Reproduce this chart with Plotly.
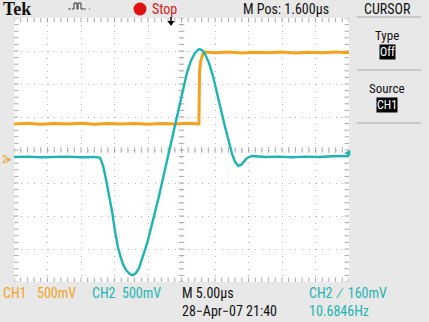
import numpy as np
import plotly.graph_objects as go

# ---- data (screen divisions: time 0..10 div, amplitude -4..4 div) ----
ch1_t = [0.00, 0.40, 0.80, 1.20, 1.60, 2.00, 2.40, 2.80, 3.20, 3.60, 4.00, 4.40, 4.80, 5.20,
         5.52, 5.54, 5.57, 5.60, 5.64, 5.70,
         6.00, 6.40, 6.80, 7.20, 7.60, 8.00, 8.40, 8.80, 9.20, 9.60, 10.00]
ch1_v = [0.79, 0.81, 0.78, 0.80, 0.79, 0.81, 0.78, 0.80, 0.79, 0.80, 0.78, 0.80, 0.79, 0.81,
         0.79, 2.40, 2.68, 2.80, 2.92, 2.97,
         2.95, 2.97, 2.94, 2.96, 2.95, 2.97, 2.94, 2.96, 2.95, 2.97, 2.95]

ch2_t = [0.00, 0.40, 0.80, 1.20, 1.60, 2.00, 2.40, 2.57, 2.66, 2.75, 2.84, 2.93, 3.01, 3.10,
         3.19, 3.28, 3.37, 3.46, 3.55, 3.64, 3.73, 3.82, 3.91, 4.00, 4.09, 4.21, 4.33, 4.45,
         4.57, 4.69, 4.81, 4.93, 5.04, 5.16, 5.28, 5.40, 5.52, 5.61, 5.70, 5.82, 5.94, 6.06,
         6.18, 6.30, 6.42, 6.51, 6.60, 6.69, 6.78, 6.87, 6.96, 7.10, 7.50, 7.90, 8.30, 8.70,
         9.10, 9.50, 10.00]
ch2_v = [-0.21, -0.20, -0.22, -0.21, -0.20, -0.22, -0.21, -0.24, -0.48, -0.91, -1.36, -1.88,
         -2.42, -2.94, -3.27, -3.52, -3.67, -3.76, -3.79, -3.73, -3.58, -3.33, -3.03, -2.73,
         -2.36, -1.94, -1.39, -0.85, -0.30, 0.24, 0.79, 1.36, 1.88, 2.33, 2.70, 2.94, 3.06,
         3.03, 2.91, 2.64, 2.24, 1.76, 1.21, 0.70, 0.21, -0.12, -0.36, -0.48, -0.45, -0.33,
         -0.24, -0.18, -0.21, -0.20, -0.22, -0.20, -0.21, -0.19, -0.18]

n_xdiv = 10
n_ydiv = 8

ORANGE = "#f5a11c"
CYAN = "#1db4b2"
BG = "#e8e8e8"
GRID = "#b8b8b8"
TICK = "#a8a8a8"
NARROW = "Liberation Sans Narrow, Roboto Condensed, Arial Narrow, Liberation Sans, sans-serif"

W, H = 429, 322
L, R, T, B = 14, 80, 18, 40
PW, PH = W - L - R, H - T - B


def X(px):
    return (px - L) / PW


def Y(py):
    return (H - B - py) / PH


fig = go.Figure()

# graticule minor ticks (center cross + edges)
minor_x = np.round(np.arange(0, n_xdiv + 1e-9, 0.2), 3)
minor_y = np.round(np.arange(-n_ydiv / 2, n_ydiv / 2 + 1e-9, 0.2), 3)
for yy in [0, -n_ydiv / 2 + 0.05, n_ydiv / 2 - 0.05]:
    fig.add_trace(go.Scatter(x=minor_x, y=[yy] * len(minor_x), mode="markers",
                             marker=dict(symbol="line-ns", size=4, line=dict(width=1, color=TICK)),
                             hoverinfo="skip", showlegend=False))
for xx in [n_xdiv / 2, 0.05, n_xdiv - 0.05]:
    fig.add_trace(go.Scatter(x=[xx] * len(minor_y), y=minor_y, mode="markers",
                             marker=dict(symbol="line-ew", size=4, line=dict(width=1, color=TICK)),
                             hoverinfo="skip", showlegend=False))

fig.add_trace(go.Scatter(x=ch1_t, y=ch1_v, mode="lines",
                         line=dict(color=ORANGE, width=3), showlegend=False))
fig.add_trace(go.Scatter(x=ch2_t, y=ch2_v, mode="lines",
                         line=dict(color=CYAN, width=2.4), showlegend=False))

fig.update_xaxes(range=[0, n_xdiv], dtick=1, tick0=0, showgrid=True, gridcolor=GRID,
                 griddash="1px,5.6px", gridwidth=1, showticklabels=False, zeroline=False,
                 showline=False, ticks="", fixedrange=True)
fig.update_yaxes(range=[-n_ydiv / 2, n_ydiv / 2], dtick=1, tick0=0, showgrid=True, gridcolor=GRID,
                 griddash="1px,5.7px", gridwidth=1, showticklabels=False, zeroline=False,
                 showline=False, ticks="", fixedrange=True)

ann = []


def text(px, py, s, color="#111111", size=14, family=NARROW, xanchor="left", **kw):
    ann.append(dict(x=X(px), y=Y(py), xref="paper", yref="paper", text=s, showarrow=False,
                    xanchor=xanchor, yanchor="middle", font=dict(color=color, size=size, family=family),
                    **kw))


# header
text(1, 9, "<b>Tek</b>", size=18, family="Liberation Serif, DejaVu Serif, serif")
text(150, 9, "Stop", color="#d81818", size=14)
text(241, 9, "M Pos: 1.600\u00b5s", size=14)
text(387, 9, "CURSOR", size=14, xanchor="center")

# side menu
text(387, 35, "Type", size=13, xanchor="center")
text(387, 52, "Off", color="#ffffff", size=12, xanchor="center", bgcolor="#000000", borderpad=0)
text(387, 88, "Source", size=13, xanchor="center")
text(387, 105, "CH1", color="#ffffff", size=12, xanchor="center", bgcolor="#000000", borderpad=0)

# bottom readouts
text(1, 293, "CH1", color=ORANGE)
text(35, 293, "500mV", color=ORANGE)
text(90, 293, "CH2", color=CYAN)
text(120, 293, "500mV", color=CYAN)
text(180, 293, "M 5.00\u00b5s")
text(180, 311, "28\u2212Apr\u221207 21:40")
text(307, 293, "CH2  \u2215  160mV", color=CYAN)
text(307, 311, "10.6846Hz", color=CYAN)

# channel / trigger markers
text(0, 159, "2", color="#e8a52a", size=11)
text(5, 159, "\u25b8", color="#e8a52a", size=9)
text(342, 152, "\u25c2", color=CYAN, size=12)

shapes = [
    # stop dot
    dict(type="circle", xref="paper", yref="paper", x0=X(133.5), x1=X(146.5), y0=Y(15.5), y1=Y(2.5),
         fillcolor="#e01010", line=dict(width=0)),
    # acquisition pulse icon
    dict(type="path", xref="paper", yref="paper",
         path=f"M{X(72)},{Y(9)} L{X(74)},{Y(9)} L{X(74)},{Y(3)} L{X(77)},{Y(3)} L{X(77)},{Y(9)} "
              f"L{X(78)},{Y(9)} L{X(78)},{Y(3)} L{X(81)},{Y(3)} L{X(81)},{Y(9)} L{X(83)},{Y(9)}",
         line=dict(color="#333333", width=1)),
    dict(type="line", xref="paper", yref="paper", x0=X(68), x1=X(72), y0=Y(9), y1=Y(9),
         line=dict(color="#555555", width=1, dash="dot")),
    dict(type="line", xref="paper", yref="paper", x0=X(83), x1=X(90), y0=Y(9), y1=Y(9),
         line=dict(color="#555555", width=1, dash="dot")),
    # trigger position arrow
    dict(type="line", xref="paper", yref="paper", x0=X(171), x1=X(171), y0=Y(17), y1=Y(22),
         line=dict(color="#000000", width=1.5)),
    dict(type="path", xref="paper", yref="paper",
         path=f"M{X(167.5)},{Y(21)} L{X(174.5)},{Y(21)} L{X(171)},{Y(26)} Z",
         fillcolor="#000000", line=dict(width=0)),
    # side menu separators
    dict(type="line", xref="paper", yref="paper", x0=X(357), x1=X(421), y0=Y(17), y1=Y(17),
         line=dict(color="#a8a8a8", width=1)),
    dict(type="line", xref="paper", yref="paper", x0=X(357), x1=X(421), y0=Y(70), y1=Y(70),
         line=dict(color="#a8a8a8", width=1)),
    dict(type="line", xref="paper", yref="paper", x0=X(357), x1=X(421), y0=Y(123), y1=Y(123),
         line=dict(color="#a8a8a8", width=1)),
]

fig.update_layout(
    width=W, height=H, margin=dict(l=L, r=R, t=T, b=B, pad=0),
    paper_bgcolor=BG, plot_bgcolor="#ffffff",
    annotations=ann, shapes=shapes, showlegend=False,
)

fig.write_html("out.html", config={"displayModeBar": False})
